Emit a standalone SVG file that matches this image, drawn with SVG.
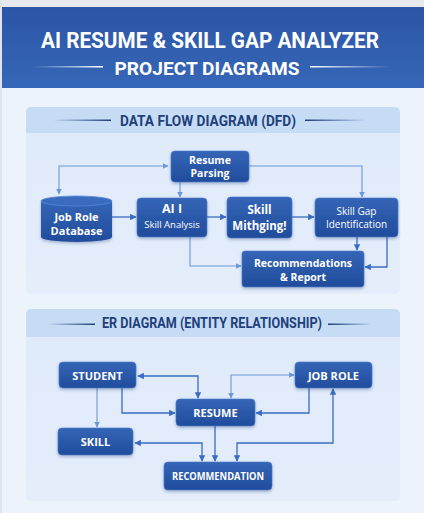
<svg xmlns="http://www.w3.org/2000/svg" width="424" height="513" viewBox="0 0 424 513">
<defs>
<linearGradient id="hdr" x1="0" y1="0" x2="0" y2="1"><stop offset="0" stop-color="#2b55a6"/><stop offset="1" stop-color="#3767b8"/></linearGradient>
<linearGradient id="nd" x1="0" y1="0" x2="0" y2="1"><stop offset="0" stop-color="#3565b6"/><stop offset="1" stop-color="#214c9c"/></linearGradient>
<linearGradient id="pnl" x1="0" y1="0" x2="0" y2="1"><stop offset="0" stop-color="#dfeafa"/><stop offset="1" stop-color="#e4edfa"/></linearGradient>
<linearGradient id="lnL" x1="0" y1="0" x2="1" y2="0"><stop offset="0" stop-color="#1f3f7a" stop-opacity="0"/><stop offset="1" stop-color="#1f3f7a"/></linearGradient>
<linearGradient id="lnR" x1="0" y1="0" x2="1" y2="0"><stop offset="0" stop-color="#1f3f7a"/><stop offset="1" stop-color="#1f3f7a" stop-opacity="0"/></linearGradient>
<linearGradient id="wlL" x1="0" y1="0" x2="1" y2="0"><stop offset="0" stop-color="#fff" stop-opacity="0"/><stop offset="1" stop-color="#fff"/></linearGradient>
<linearGradient id="wlR" x1="0" y1="0" x2="1" y2="0"><stop offset="0" stop-color="#fff"/><stop offset="1" stop-color="#fff" stop-opacity="0"/></linearGradient>
<marker id="ar" viewBox="0 0 10 10" refX="9" refY="5" markerWidth="5" markerHeight="5" orient="auto-start-reverse"><path d="M0,0 L10,5 L0,10 z" fill="#3a6cc2"/></marker>
<marker id="al" viewBox="0 0 10 10" refX="9" refY="5" markerWidth="5" markerHeight="5" orient="auto-start-reverse"><path d="M0,0 L10,5 L0,10 z" fill="#6d97d8"/></marker>
<filter id="sh" x="-20%" y="-20%" width="140%" height="150%"><feDropShadow dx="0" dy="1.5" stdDeviation="1.5" flood-color="#1a3a7a" flood-opacity="0.35"/></filter>
</defs>
<style>
.nd{fill:url(#nd);stroke:#4a7ccc;stroke-width:0.6;filter:url(#sh)}
.t{font-family:"Open Sans","Noto Sans",sans-serif;font-weight:700;fill:#fff;text-anchor:middle}
.tr{font-family:"Open Sans","Noto Sans",sans-serif;font-weight:400;fill:#fff;text-anchor:middle}
.ptl{font-family:"Roboto","Liberation Sans",sans-serif;font-weight:700;fill:#1f3f7a;text-anchor:middle}
.c{fill:none;stroke:#3a6cc2;stroke-width:1.3}
.cl{fill:none;stroke:#6d97d8;stroke-width:1.1}
</style>
<rect x="0" y="0" width="424" height="513" fill="#edf3fb"/>
<rect x="0" y="0" width="424" height="7" fill="#e6e8ec"/>
<rect x="0" y="0" width="2" height="513" fill="#dfe3ea"/>
<g id="header">
<rect x="2" y="7" width="422" height="81" fill="url(#hdr)"/>
<text x="210" y="48" font-family="Roboto,'Liberation Sans',sans-serif" font-weight="700" font-size="22" fill="#fff" text-anchor="middle" textLength="338" lengthAdjust="spacingAndGlyphs">AI RESUME &amp; SKILL GAP ANALYZER</text>
<text x="207" y="75" font-family="Roboto,'Liberation Sans',sans-serif" font-weight="700" font-size="19" fill="#fff" text-anchor="middle" textLength="185" lengthAdjust="spacingAndGlyphs">PROJECT DIAGRAMS</text>
<rect x="33" y="66" width="70" height="1.5" fill="url(#wlL)"/>
<rect x="310" y="66" width="80" height="1.5" fill="url(#wlR)"/>
</g>
<g id="dfd-panel">
<rect x="26" y="107" width="374" height="187" rx="5" fill="url(#pnl)"/>
<path d="M26,133 V112 a5,5 0 0 1 5,-5 H395 a5,5 0 0 1 5,5 V133 z" fill="#c6dcf5"/>
<text class="ptl" x="208" y="126" font-size="14" textLength="176" lengthAdjust="spacingAndGlyphs">DATA FLOW DIAGRAM (DFD)</text>
<rect x="53" y="119.5" width="58" height="1.5" fill="url(#lnL)"/>
<rect x="305" y="119.5" width="62" height="1.5" fill="url(#lnR)"/>
</g>
<g id="er-panel">
<rect x="26" y="309" width="374" height="192" rx="5" fill="url(#pnl)"/>
<path d="M26,337 V314 a5,5 0 0 1 5,-5 H395 a5,5 0 0 1 5,5 V337 z" fill="#c6dcf5"/>
<text class="ptl" x="212" y="328" font-size="14" textLength="220" lengthAdjust="spacingAndGlyphs">ER DIAGRAM (ENTITY RELATIONSHIP)</text>
<rect x="47" y="323.5" width="48" height="1.5" fill="url(#lnL)"/>
<rect x="328" y="323.5" width="45" height="1.5" fill="url(#lnR)"/>
</g>
<g id="connectors">
<path class="c" d="M112,217 H136" marker-end="url(#ar)"/>
<path class="c" d="M207,217 H226" marker-end="url(#ar)"/>
<path class="c" d="M292,217 H314" marker-end="url(#ar)"/>
<path class="cl" d="M59,194 V166 H168" marker-start="url(#al)" marker-end="url(#al)"/>
<path class="cl" d="M180,182 V197" marker-end="url(#al)"/>
<path class="cl" d="M249,166 H362 V197" marker-end="url(#al)"/>
<path class="cl" d="M190,237 V266 H241" marker-end="url(#al)"/>
<path class="c" d="M357,237 V250" marker-end="url(#ar)"/>
<path class="c" d="M387,237 V267 H365" marker-end="url(#ar)"/>
<path class="c" d="M138,376 H198 V398" marker-start="url(#ar)" marker-end="url(#ar)"/>
<path class="c" d="M122,388 V413 H175" marker-end="url(#ar)"/>
<path class="cl" d="M97,388 V427" marker-end="url(#al)"/>
<path class="cl" d="M231,398 V375 H294" marker-start="url(#al)" marker-end="url(#al)"/>
<path class="c" d="M309,388 V413 H256" marker-end="url(#ar)"/>
<path class="c" d="M215,426 V461" marker-end="url(#ar)"/>
<path class="c" d="M135,443 H202 V461" marker-start="url(#ar)" marker-end="url(#ar)"/>
<path class="c" d="M333,389 V443 H237 V461" marker-start="url(#ar)" marker-end="url(#ar)"/>
</g>
<g id="resume-parsing">
<rect class="nd" x="171" y="151" width="78" height="31" rx="4"/>
<text class="t" x="210" y="163.5" font-size="10.5">Resume</text>
<text class="t" x="210" y="177" font-size="10.5">Parsing</text>
</g>
<g id="job-role-database">
<path d="M41,201 V237 A35.5,5 0 0 0 112,237 V201 z" fill="url(#nd)" filter="url(#sh)"/>
<ellipse cx="76.5" cy="201" rx="35.5" ry="5" fill="#3a6bbd" stroke="#5a88d2" stroke-width="0.8"/>
<text class="t" x="76.5" y="220.5" font-size="11">Job Role</text>
<text class="t" x="76.5" y="234.5" font-size="11">Database</text>
</g>
<g id="ai-skill-analysis">
<rect class="nd" x="137" y="198" width="70" height="39" rx="4"/>
<text class="t" x="172" y="213" font-size="12.5">AI I</text>
<text class="tr" x="172" y="227.5" font-size="9.5">Skill Analysis</text>
</g>
<g id="skill-matching">
<rect class="nd" x="227" y="197" width="65" height="41" rx="4"/>
<text class="t" x="259.5" y="214" font-size="11.5">Skill</text>
<text class="t" x="259.5" y="230" font-size="11.5">Mithging!</text>
</g>
<g id="skill-gap">
<rect class="nd" x="315" y="198" width="83" height="39" rx="4"/>
<text class="tr" x="356.5" y="214.5" font-size="10" font-weight="600">Skill Gap</text>
<text class="tr" x="356.5" y="228" font-size="10" font-weight="600">Identification</text>
</g>
<g id="recommendations-report">
<rect class="nd" x="242" y="251" width="122" height="36" rx="3"/>
<text class="t" x="303" y="266.5" font-size="10.5">Recommendations</text>
<text class="t" x="303" y="280.5" font-size="10.5">&amp; Report</text>
</g>
<g id="student">
<rect class="nd" x="59" y="362" width="77" height="26" rx="4"/>
<text class="t" x="97.5" y="380" font-size="11">STUDENT</text>
</g>
<g id="resume">
<rect class="nd" x="176" y="399" width="79" height="27" rx="4"/>
<text class="t" x="215.5" y="417" font-size="11">RESUME</text>
</g>
<g id="job-role">
<rect class="nd" x="295" y="362" width="77" height="26" rx="4"/>
<text class="t" x="333.5" y="380" font-size="11">JOB ROLE</text>
</g>
<g id="skill">
<rect class="nd" x="58" y="428" width="75" height="27" rx="4"/>
<text class="t" x="95.5" y="446" font-size="11">SKILL</text>
</g>
<g id="recommendation">
<rect class="nd" x="164" y="462" width="108" height="28" rx="4"/>
<text class="t" x="218" y="480" font-size="10.5" textLength="92" lengthAdjust="spacingAndGlyphs">RECOMMENDATION</text>
</g>
</svg>
